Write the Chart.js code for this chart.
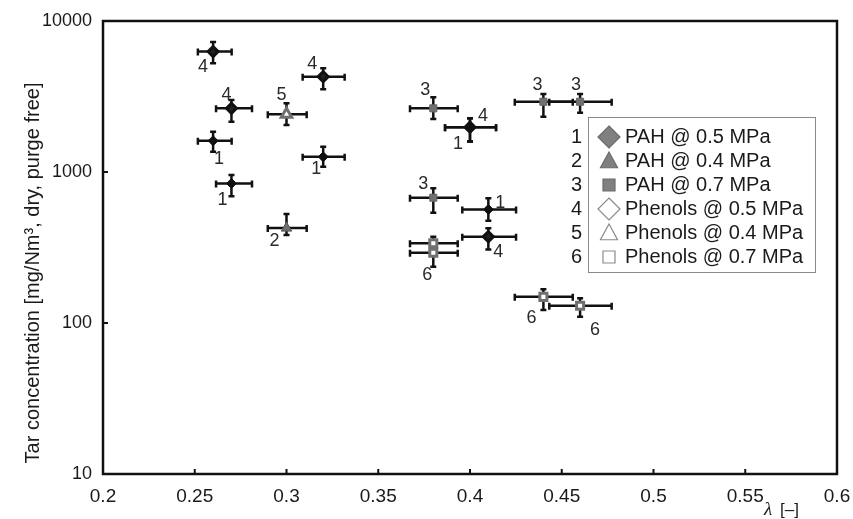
<!DOCTYPE html>
<html>
<head>
<meta charset="utf-8">
<script src="https://cdn.jsdelivr.net/npm/chart.js@4.4.1/dist/chart.umd.min.js"></script>
<style>
  body { margin: 0; background: #fff; }
  #wrap { width: 853px; height: 519px; }
</style>
</head>
<body>
<div id="wrap"><canvas id="tarChart"></canvas></div>
<script>
// Legend entries, the numbers 1-6 tag the points in the plot
const seriesNames = ['PAH @ 0.5 MPa', 'PAH @ 0.4 MPa', 'PAH @ 0.7 MPa',
                     'Phenols @ 0.5 MPa', 'Phenols @ 0.4 MPa', 'Phenols @ 0.7 MPa'];

// air ratio lambda [-] per series
const lambdaValues = [
  [0.26, 0.27, 0.32, 0.40, 0.41],
  [0.30],
  [0.38, 0.38, 0.44, 0.46],
  [0.26, 0.27, 0.32, 0.40, 0.41],
  [0.30],
  [0.38, 0.38, 0.44, 0.46]
];
// tar concentration [mg/Nm3] per series
const tarValues = [
  [1610, 840, 1260, 1980, 565],
  [425],
  [2640, 676, 2920, 2920],
  [6270, 2640, 4280, 1980, 373],
  [2410],
  [337, 292, 149, 130]
];
// error bar ends
const lambdaLow = [
  [0.2517, 0.2616, 0.3088, 0.3864, 0.3958],
  [0.2898],
  [0.3673, 0.3673, 0.4244, 0.4432],
  [0.2517, 0.2616, 0.3088, 0.3864, 0.3958],
  [0.2898],
  [0.3673, 0.3673, 0.4244, 0.4432]
];
const lambdaHigh = [
  [0.2701, 0.2812, 0.3317, 0.4142, 0.4251],
  [0.311],
  [0.3933, 0.3933, 0.456, 0.4772],
  [0.2701, 0.2812, 0.3317, 0.4142, 0.4251],
  [0.311],
  [0.3933, 0.3933, 0.456, 0.4772]
];
const tarLow = [
  [1360, 690, 1085, 1590, 475],
  [383],
  [2245, 537, 2320, 2470],
  [5250, 2150, 3530, 1590, 307],
  [2045],
  [300, 236, 122, 110]
];
const tarHigh = [
  [1850, 955, 1470, 2270, 670],
  [527],
  [3125, 780, 3290, 3290],
  [7260, 3000, 4860, 2270, 424],
  [2850],
  [373, 330, 167, 146]
];

const xTickLabels = ['0.2', '0.25', '0.3', '0.35', '0.4', '0.45', '0.5', '0.55', '0.6'];
const yTickValues = [10, 100, 1000, 10000];
const yTickLabels = ['10', '100', '1000', '10000'];

// where the series number sits next to each point (px offset), null = no tag
const tagOffsets = [
  [[6, 18], [-9, 17], [-7, 12], [-12, 17], [12, -6]],
  [[-12, 13]],
  [[-8, -18], [-10, -14], [-6, -17], [-4, -17]],
  [[-10, 15], [-5, -13], [-11, -13], [13, -11], [10, 15]],
  [[-5, -19]],
  [null, [-6, 22], [-12, 21], [15, 24]]
];

const pointStyles = ['rectRot', 'triangle', 'rect', 'rectRot', 'triangle', 'rect'];
const pointFill   = ['#111', '#6e6e6e', '#707070', '#222', '#fff', '#fff'];
const pointEdge   = ['#111', '#555', '#666', '#111', '#707070', '#707070'];
const pointSize   = [5, 6, 5, 5, 6, 5];

const FONT = '"Liberation Sans", Arial, Helvetica, sans-serif';
const INK = '#1a1a1a';

const errorBars = {
  id: 'errorBars',
  beforeDatasetsDraw(chart) {
    const { ctx, scales: { x, y } } = chart;
    ctx.save();
    ctx.strokeStyle = '#111';
    ctx.lineWidth = 2.5;
    lambdaValues.forEach((row, s) => row.forEach((lam, j) => {
      const px = x.getPixelForValue(lam);
      const py = y.getPixelForValue(tarValues[s][j]);
      const x0 = x.getPixelForValue(lambdaLow[s][j]);
      const x1 = x.getPixelForValue(lambdaHigh[s][j]);
      const y0 = y.getPixelForValue(tarLow[s][j]);
      const y1 = y.getPixelForValue(tarHigh[s][j]);
      ctx.beginPath();
      ctx.moveTo(x0, py); ctx.lineTo(x1, py);
      ctx.moveTo(x0, py - 3); ctx.lineTo(x0, py + 4);
      ctx.moveTo(x1, py - 3); ctx.lineTo(x1, py + 4);
      ctx.moveTo(px, y0); ctx.lineTo(px, y1);
      ctx.moveTo(px - 3, y0); ctx.lineTo(px + 3, y0);
      ctx.moveTo(px - 3, y1); ctx.lineTo(px + 3, y1);
      ctx.stroke();
    }));
    ctx.restore();
  }
};

const pointTags = {
  id: 'pointTags',
  afterDatasetsDraw(chart) {
    const { ctx, scales: { x, y } } = chart;
    ctx.save();
    ctx.font = '18px ' + FONT;
    ctx.fillStyle = '#2a2a2a';
    ctx.textAlign = 'center';
    ctx.textBaseline = 'middle';
    lambdaValues.forEach((row, s) => row.forEach((lam, j) => {
      const off = tagOffsets[s][j];
      if (!off) return;
      ctx.fillText(String(s + 1), x.getPixelForValue(lam) + off[0], y.getPixelForValue(tarValues[s][j]) + off[1]);
    }));
    ctx.restore();
  }
};

function drawMarker(ctx, style, cx, cy, r) {
  ctx.beginPath();
  if (style === 'rectRot') {
    ctx.moveTo(cx, cy - r); ctx.lineTo(cx + r, cy); ctx.lineTo(cx, cy + r); ctx.lineTo(cx - r, cy);
  } else if (style === 'triangle') {
    ctx.moveTo(cx, cy - r); ctx.lineTo(cx + r * 0.95, cy + r * 0.75); ctx.lineTo(cx - r * 0.95, cy + r * 0.75);
  } else {
    ctx.rect(cx - r, cy - r, 2 * r, 2 * r);
  }
  ctx.closePath();
  ctx.fill();
  ctx.stroke();
}

const frameAndLegend = {
  id: 'frameAndLegend',
  afterDraw(chart) {
    const { ctx, chartArea: a, scales: { x, y } } = chart;
    ctx.save();
    // plot frame
    ctx.strokeStyle = '#111';
    ctx.lineWidth = 2.5;
    ctx.strokeRect(a.left, a.top, a.right - a.left, a.bottom - a.top);
    // inward tick marks
    ctx.lineWidth = 2;
    ctx.beginPath();
    x.ticks.forEach(t => {
      const px = x.getPixelForValue(t.value);
      if (px - a.left < 3 || a.right - px < 3) return;
      ctx.moveTo(px, a.bottom); ctx.lineTo(px, a.bottom - 5);
    });
    yTickValues.forEach(v => {
      const py = y.getPixelForValue(v);
      if (py - a.top < 3 || a.bottom - py < 3) return;
      ctx.moveTo(a.left, py); ctx.lineTo(a.left + 5, py);
    });
    ctx.stroke();

    // legend box
    const bx = 588, by = 117, bw = 227, bh = 155;
    ctx.fillStyle = '#fff';
    ctx.fillRect(bx, by, bw, bh);
    ctx.strokeStyle = '#8a8a8a';
    ctx.lineWidth = 1;
    ctx.strokeRect(bx + 0.5, by + 0.5, bw, bh);
    ctx.font = '20px ' + FONT;
    ctx.textBaseline = 'middle';
    const sizes = [11, 9, 6, 11, 9, 6];
    seriesNames.forEach((name, i) => {
      const ry = 137 + i * 24;
      ctx.fillStyle = INK;
      ctx.textAlign = 'right';
      ctx.fillText(String(i + 1), 582, ry);
      ctx.textAlign = 'left';
      ctx.fillText(name, 625, ry);
      const pah = i < 3;
      ctx.fillStyle = pah ? '#808080' : '#fff';
      ctx.strokeStyle = pah ? '#6a6a6a' : '#8a8a8a';
      ctx.lineWidth = 1.2;
      drawMarker(ctx, pointStyles[i], 609, ry, sizes[i]);
    });

    // y axis name, rotated
    ctx.fillStyle = INK;
    ctx.save();
    ctx.translate(33, 273);
    ctx.rotate(-Math.PI / 2);
    ctx.textAlign = 'center';
    ctx.font = '20px ' + FONT;
    ctx.fillText('Tar concentration [mg/Nm³, dry, purge free]', 0, 0);
    ctx.restore();

    // x axis name, bottom right
    ctx.textAlign = 'left';
    ctx.font = 'italic 19px "Liberation Serif", "DejaVu Serif", serif';
    ctx.fillText('λ', 764, 510);
    ctx.font = '17px ' + FONT;
    ctx.fillText('[–]', 780, 510);
    ctx.restore();
  }
};

new Chart(document.getElementById('tarChart'), {
  type: 'scatter',
  data: {
    datasets: seriesNames.map((name, s) => ({
      label: name,
      data: lambdaValues[s].map((lam, j) => ({ x: lam, y: tarValues[s][j] })),
      pointStyle: pointStyles[s],
      pointRadius: pointSize[s],
      pointBackgroundColor: pointFill[s],
      pointBorderColor: pointEdge[s],
      pointBorderWidth: s >= 3 ? 3 : 1
    }))
  },
  options: {
    responsive: true,
    maintainAspectRatio: false,
    animation: false,
    layout: { padding: { top: 21, right: 16, left: 0, bottom: 0 } },
    plugins: { legend: { display: false }, tooltip: { enabled: false } },
    scales: {
      x: {
        type: 'linear',
        min: 0.2, max: 0.6,
        grid: { display: false, drawTicks: false },
        border: { display: false },
        ticks: {
          stepSize: 0.05,
          padding: 11,
          color: INK,
          font: { family: FONT, size: 19 },
          maxRotation: 0,
          autoSkip: false,
          callback: (v, i) => xTickLabels[i] ?? ''
        },
        afterFit: s => { s.height = 45; s.paddingLeft = 0; s.paddingRight = 0; }
      },
      y: {
        type: 'logarithmic',
        min: 10, max: 10000,
        grid: { display: false, drawTicks: false },
        border: { display: false },
        ticks: {
          padding: 11,
          color: INK,
          autoSkip: false,
          font: { family: FONT, size: 18 },
          callback: v => {
            const k = yTickValues.findIndex(t => Math.abs(t - v) < 1e-6 * t);
            return k >= 0 ? yTickLabels[k] : '';
          }
        },
        afterFit: s => { s.width = 103; s.paddingTop = 0; s.paddingBottom = 0; }
      }
    }
  },
  plugins: [errorBars, pointTags, frameAndLegend]
});
</script>
</body>
</html>
